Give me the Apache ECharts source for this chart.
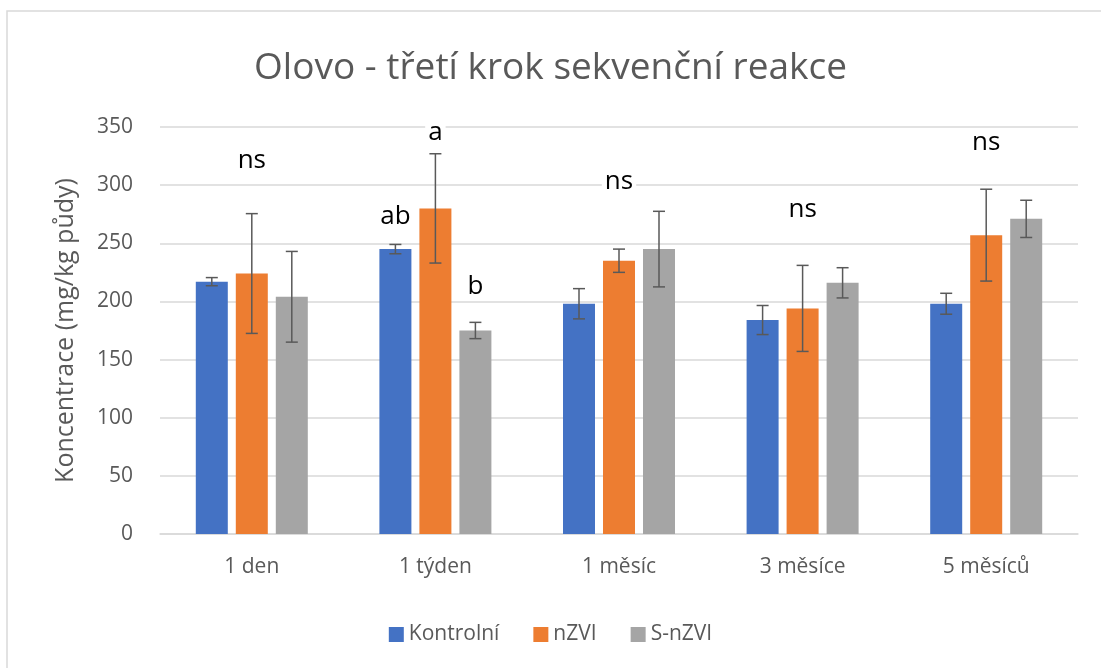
<!DOCTYPE html>
<html>
<head>
<meta charset="utf-8">
<script src="https://cdn.jsdelivr.net/npm/echarts@6/dist/echarts.min.js"></script>
<style>
    html, body { margin: 0; padding: 0; background: #fff; }
    #main { width: 1101px; height: 668px; }
</style>
</head>
<body>
<div id="main"></div>
<script>
var categories = ['1 den', '1 týden', '1 měsíc', '3 měsíce', '5 měsíců'];
var seriesNames = ['Kontrolní', 'nZVI', 'S-nZVI'];
var kontrolni = [217, 245, 198, 184, 198];
var nzvi = [224, 280, 235, 194, 257];
var snzvi = [204, 175, 245, 216, 271];
var kontrolniErr = [3.5, 4, 13, 12.5, 9];
var nzviErr = [51.5, 47, 10, 37, 39.5];
var snzviErr = [39, 7, 32.5, 13, 16];
// significance letters: category index, bar index (-1 = group centre), y value
var sigText = ['ns', 'ab', 'a', 'b', 'ns', 'ns', 'ns'];
var sigCat = [0, 1, 1, 1, 2, 3, 4];
var sigBar = [-1, 0, 1, 2, -1, -1, -1];
var sigY = [321, 273, 345, 213, 303, 279, 337];

(function container() {
    var dom = document.getElementById('main');
    var chart = echarts.init(dom);
    var colors = ['#4472c4', '#ed7d31', '#a5a5a5'];
    var values = [kontrolni, nzvi, snzvi];
    var errors = [kontrolniErr, nzviErr, snzviErr];
    var barW = 32, step = 40;

    var series = [];
    values.forEach(function (v, i) {
        series.push({
            name: seriesNames[i],
            type: 'bar',
            barWidth: barW,
            barGap: '25%',
            itemStyle: { color: colors[i] },
            data: v
        });
    });

    values.forEach(function (v, i) {
        var errData = v.map(function (val, k) {
            return [k, val - errors[i][k], val + errors[i][k]];
        });
        series.push({
            type: 'custom',
            silent: true,
            z: 10,
            renderItem: function (params, api) {
                var lo = api.coord([api.value(0), api.value(1)]);
                var hi = api.coord([api.value(0), api.value(2)]);
                var x = lo[0] + (i - 1) * step;
                var cap = 6;
                var st = { stroke: '#595959', lineWidth: 1.5 };
                return {
                    type: 'group',
                    children: [
                        { type: 'line', shape: { x1: x, y1: lo[1], x2: x, y2: hi[1] }, style: st },
                        { type: 'line', shape: { x1: x - cap, y1: lo[1], x2: x + cap, y2: lo[1] }, style: st },
                        { type: 'line', shape: { x1: x - cap, y1: hi[1], x2: x + cap, y2: hi[1] }, style: st }
                    ]
                };
            },
            encode: { x: 0, y: [1, 2] },
            data: errData
        });
    });

    var sigData = sigText.map(function (t, k) {
        return [sigCat[k], sigY[k], sigBar[k]];
    });
    series.push({
        type: 'custom',
        silent: true,
        z: 11,
        renderItem: function (params, api) {
            var p = api.coord([api.value(0), api.value(1)]);
            var b = api.value(2);
            var dx = b < 0 ? 0 : (b - 1) * step;
            return {
                type: 'text',
                x: p[0] + dx,
                y: p[1],
                style: {
                    text: sigText[params.dataIndex],
                    fill: '#000',
                    font: '26px "Open Sans", sans-serif',
                    align: 'center',
                    verticalAlign: 'middle',
                    backgroundColor: '#fff',
                    padding: [0, 3]
                }
            };
        },
        encode: { x: 0, y: 1 },
        data: sigData
    });

    var option = {
        backgroundColor: '#fff',
        animation: false,
        title: {
            text: 'Olovo - třetí krok sekvenční reakce',
            left: 'center',
            top: 45,
            textStyle: {
                fontFamily: 'Open Sans',
                fontWeight: 'normal',
                fontSize: 37,
                color: '#595959'
            }
        },
        legend: {
            data: seriesNames,
            top: 619,
            left: 'center',
            itemWidth: 15,
            itemHeight: 15,
            itemGap: 34,
            icon: 'rect',
            textStyle: { fontFamily: 'Open Sans', fontSize: 21, color: '#595959' }
        },
        grid: {
            left: 160,
            right: 23,
            top: 127,
            bottom: 134
        },
        xAxis: {
            type: 'category',
            data: categories,
            axisTick: { show: false },
            axisLine: { lineStyle: { color: '#d9d9d9', width: 1.5 } },
            axisLabel: { fontFamily: 'Open Sans', fontSize: 21, color: '#595959', margin: 23 }
        },
        yAxis: {
            type: 'value',
            min: 0,
            max: 350,
            interval: 50,
            name: 'Koncentrace (mg/kg půdy)',
            nameLocation: 'middle',
            nameGap: 82,
            nameTextStyle: { fontFamily: 'Open Sans', fontSize: 25, color: '#595959' },
            axisLine: { show: false },
            axisTick: { show: false },
            axisLabel: { fontFamily: 'Open Sans', fontSize: 21, color: '#595959', margin: 27 },
            splitLine: { lineStyle: { color: '#d9d9d9', width: 1.5 } }
        },
        graphic: [{
            type: 'rect',
            shape: { x: 7, y: 11, width: 1200, height: 800 },
            style: { fill: null, stroke: '#d9d9d9', lineWidth: 1.5 },
            silent: true
        }],
        series: series
    };

    if (option && typeof option === 'object') {
        chart.setOption(option, true);
    }
})();
</script>
</body>
</html>
